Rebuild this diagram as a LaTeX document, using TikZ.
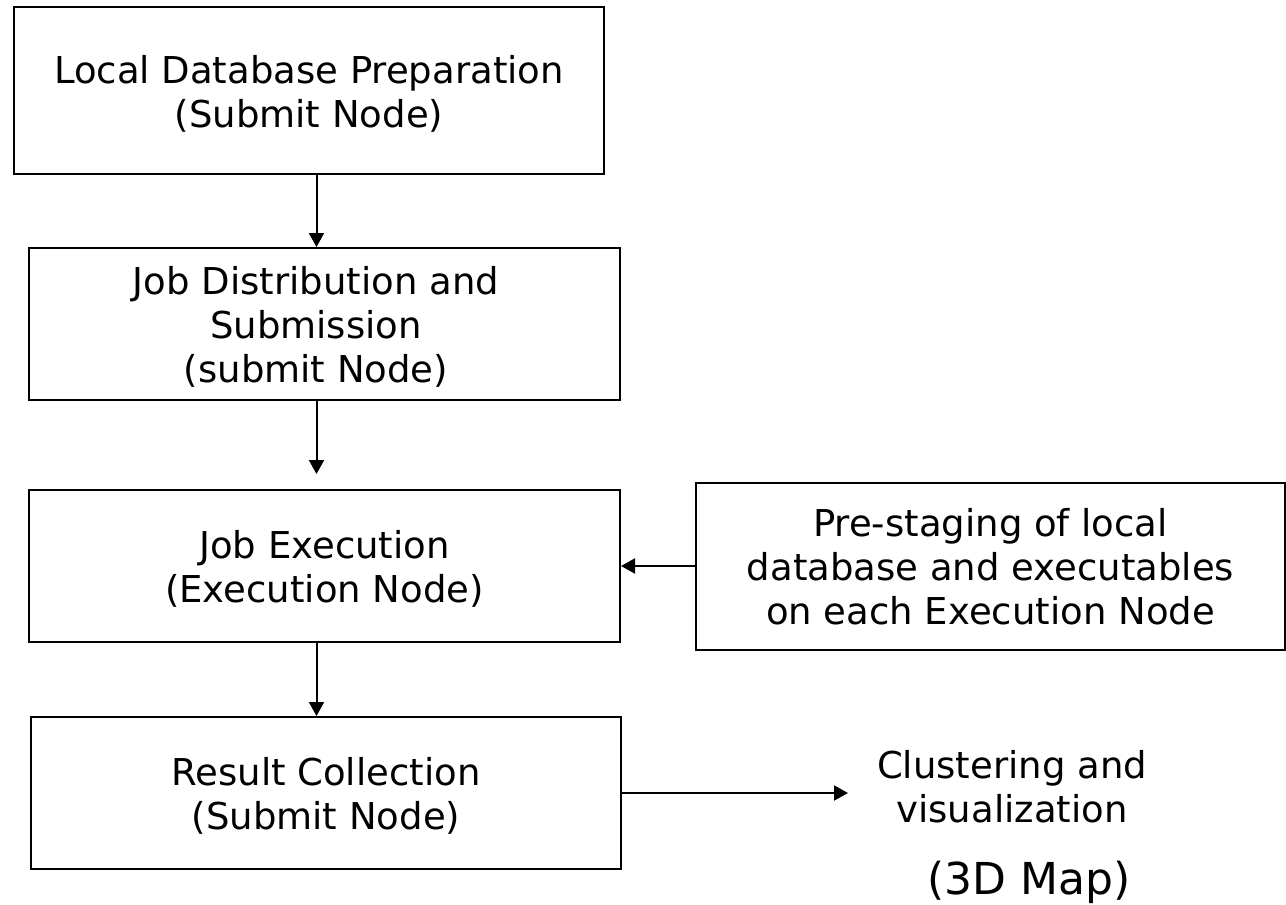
\documentclass[tikz,border=0pt]{standalone}
\usepackage{fontspec}
\setmainfont{DejaVu Sans}
\usetikzlibrary{arrows.meta}
\begin{document}
\begin{tikzpicture}[x=1pt,y=-1pt,
  stage/.style={draw,line width=2pt,inner sep=0pt},
  caption/.style={align=center,inner sep=0pt,font=\fontsize{37}{44}\selectfont},
  flow/.style={line width=2pt,-{Triangle[length=14pt,width=15pt]}}]
\useasboundingbox (0,0) rectangle (1286,905);
% process boxes
\node[stage,minimum width=590,minimum height=167] (prep) at (309,90.5) {};
\node[stage,minimum width=591,minimum height=152] (dist) at (324.5,324) {};
\node[stage,minimum width=591,minimum height=151.5] (exec) at (324.5,565.75) {};
\node[stage,minimum width=590,minimum height=152] (coll) at (326,793) {};
\node[stage,minimum width=589,minimum height=167] (pre) at (990.5,566.5) {};
% box captions
\node[caption] (prep-t) at (309,93.5) {Local Database Preparation\\(Submit Node)};
\node[caption] (dist-t) at (316,326.5) {Job Distribution and\\Submission\\(submit Node)};
\node[caption] (exec-t) at (324.5,568.5) {Job Execution\\(Execution Node)};
\node[caption] (coll-t) at (326,796) {Result Collection\\(Submit Node)};
\node[caption] (pre-t) at (990.5,567) {Pre-staging of local\\database and executables\\ on each Execution Node};
% final step, not boxed
\node[caption] (clust) at (1012,787) {Clustering and\\visualization};
\node[inner sep=0pt,anchor=base,font=\fontsize{44}{52}\selectfont] (map) at (1029,894) {(3D Map)};
\coordinate (clin) at (848,793);
% connectors
\draw[flow] (prep.south -| 316.5,0) -- (dist.north -| 316.5,0);
\draw[flow,shorten >=15pt] (dist.south -| 316.5,0) -- (exec.north -| 316.5,0);
\draw[flow] (exec.south -| 316.5,0) -- (coll.north -| 316.5,0);
\draw[flow] (pre.west |- 0,566) -- (exec.east |- 0,566);
\draw[flow] (coll.east |- clin) -- (clin);
\end{tikzpicture}
\end{document}
